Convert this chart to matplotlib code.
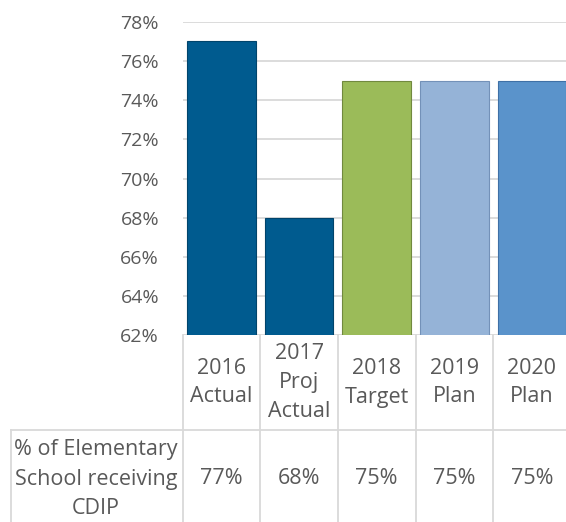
import matplotlib.pyplot as plt
from matplotlib import transforms
from matplotlib.lines import Line2D

# --- data ---
categories = ["2016\nActual", "2017\nProj\nActual", "2018\nTarget", "2019\nPlan", "2020\nPlan"]
values = [77, 68, 75, 75, 75]
row_label = "% of Elementary\nSchool receiving\nCDIP"
y_ticks = [62, 64, 66, 68, 70, 72, 74, 76, 78]

bar_colors = ["#005B8F", "#005B8F", "#9BBB59", "#95B3D7", "#5A93CB"]
edge_colors = ["#00446B", "#00446B", "#71893F", "#7391B8", "#3F70A6"]
text_color = "#595959"
line_color = "#D9D9D9"

plt.rcParams["font.family"] = ["Open Sans", "DejaVu Sans"]

W, H = 566, 522
fig = plt.figure(figsize=(W / 100, H / 100), dpi=100)

# plot area in pixels (left, top, right, bottom)
px_left, px_top, px_right, px_bottom = 182.7, 21.7, 570.7, 335.3
ax = fig.add_axes([px_left / W, 1 - px_bottom / H,
                   (px_right - px_left) / W, (px_bottom - px_top) / H])

x = range(len(values))
ax.bar(x, values, width=0.885, color=bar_colors, edgecolor=edge_colors,
       linewidth=0.8, zorder=3)
ax.set_xlim(-0.5, len(values) - 0.5)
ax.set_ylim(y_ticks[0], y_ticks[-1])
ax.set_yticks(y_ticks)
ax.set_yticklabels([f"{t}%" for t in y_ticks])
ax.set_xticks([])
ax.yaxis.grid(True, color=line_color, linewidth=1.3)
ax.set_axisbelow(True)
for s in ax.spines.values():
    s.set_visible(False)
ax.tick_params(axis="y", length=0, pad=17, labelsize=14, labelcolor=text_color)

# --- data table under the bars ---
trans = transforms.blended_transform_factory(ax.transData, fig.transFigure)
y_top = 1 - px_bottom / H
y_mid = 1 - 430 / H
y_end = -0.02

for b in [i - 0.5 for i in range(len(values) + 1)]:
    fig.add_artist(Line2D([b, b], [y_top, y_end], transform=trans,
                          color=line_color, lw=1.3))
fig.add_artist(Line2D([-0.5, len(values) - 0.5], [y_mid, y_mid], transform=trans,
                      color=line_color, lw=1.3))
fig.add_artist(Line2D([11 / W, px_left / W], [y_mid, y_mid],
                      transform=fig.transFigure, color=line_color, lw=1.3))
fig.add_artist(Line2D([11 / W, 11 / W], [y_mid, y_end],
                      transform=fig.transFigure, color=line_color, lw=1.3))

y_head = 1 - 382.5 / H
y_row = 1 - 479 / H
for i, (cat, v) in enumerate(zip(categories, values)):
    fig.text(i, y_head, cat, transform=trans, ha="center", va="center",
             fontsize=15.5, color=text_color, linespacing=1.5)
    fig.text(i, y_row, f"{v}%", transform=trans, ha="center", va="center",
             fontsize=15.5, color=text_color)
fig.text(96 / W, y_row, row_label, ha="center", va="center",
         fontsize=15.5, color=text_color, linespacing=1.5)

fig.savefig("out.png", dpi=100)
